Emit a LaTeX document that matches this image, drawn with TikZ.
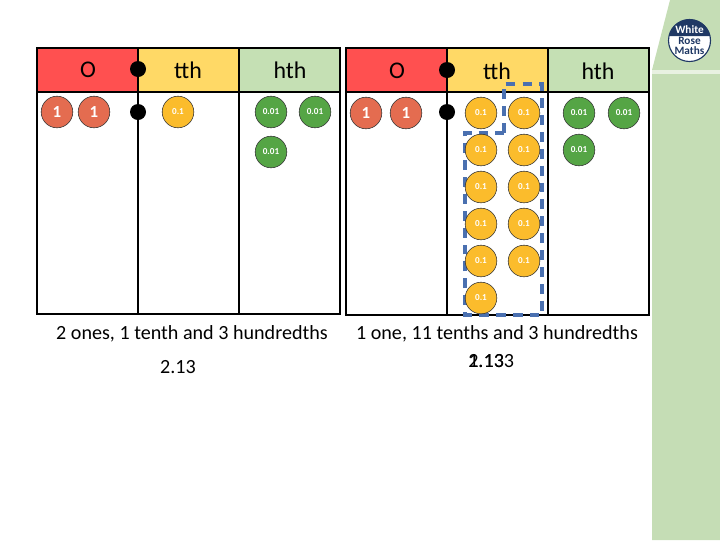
\documentclass[tikz,border=0pt]{standalone}
\usepackage{fontspec}
\setmainfont{Carlito}
\definecolor{onesred}{HTML}{FF5050}
\definecolor{tthyellow}{HTML}{FFD966}
\definecolor{hthgreen}{HTML}{C5E0B4}
\definecolor{onecounter}{HTML}{E46C50}
\definecolor{tthcounter}{HTML}{FBBC2C}
\definecolor{hthcounter}{HTML}{55A545}
\definecolor{bandgreen}{HTML}{C5DDB5}
\definecolor{wrmnavy}{HTML}{1F3864}
\definecolor{regroupblue}{HTML}{4A70B0}
\tikzset{
  headtext/.style={font=\fontsize{17}{20}\selectfont},
  captext/.style={font=\fontsize{14.3}{17}\selectfont},
  counter/.style={circle,draw=black!80,line width=0.4pt,minimum size=0.79cm,inner sep=0pt,text=white,font=\bfseries\fontsize{6.5}{7}\selectfont},
  onecount/.style={counter,fill=onecounter,font=\bfseries\fontsize{12}{12}\selectfont},
  tthcount/.style={counter,fill=tthcounter},
  hthcount/.style={counter,fill=hthcounter},
  pivot/.style={circle,fill=black,minimum size=0.4cm,inner sep=0pt},
  logotext/.style={font=\bfseries\fontsize{8}{8}\selectfont,inner sep=0pt},
  grid/.style={line width=1.4pt}
}
\begin{document}
\begin{tikzpicture}[x=0.025cm,y=-0.025cm]
\useasboundingbox (0,0) rectangle (720,540);
% side band and logo
\fill[bandgreen] (670,0) -- (720,0) -- (720,540) -- (652,540) -- (652,70) -- cycle;
\fill[white!60!bandgreen] (652,70) rectangle (720,74);
\fill[white] (689.5,40.5) circle (21);
\fill[wrmnavy] (669,36) arc (192:348:21) -- cycle;
\draw[wrmnavy,line width=0.8pt] (689.5,40.5) circle (21);
\node[logotext,text=white] (logoa) at (689.5,30) {White};
\node[logotext,text=wrmnavy] (logob) at (689.5,41) {Rose};
\node[logotext,text=wrmnavy] (logoc) at (689.5,51) {Maths};

% left chart
\fill[onesred] (37,48) rectangle (138,92);
\fill[tthyellow] (138,48) rectangle (239,92);
\fill[hthgreen] (239,48) rectangle (340,92);
\draw[grid] (37,48) rectangle (340,314);
\draw[grid] (37,92) -- (340,92);
\draw[grid] (138,48) -- (138,314);
\draw[grid] (239,48) -- (239,314);
\node[headtext] (oa) at (88,70) {O};
\node[headtext] (ta) at (188,70) {tth};
\node[headtext] (ha) at (290,70) {hth};
\node[pivot] (pa) at (138,69) {};
\node[pivot] (pb) at (138,112) {};
\foreach \x/\y [count=\i] in {57/112,94/112}
  \node[onecount] (ca\i) at (\x,\y) {1};
\node[tthcount] (da1) at (178,112) {0.1};
\foreach \x/\y [count=\i] in {271/112,315/112,271/152}
  \node[hthcount] (ea\i) at (\x,\y) {0.01};
\node[captext] (capa) at (192,334) {2 ones, 1 tenth and 3 hundredths};
\node[captext] (vala) at (178,367) {2.13};

% right chart
\fill[onesred] (346,48) rectangle (447,92);
\fill[tthyellow] (447,48) rectangle (548,92);
\fill[hthgreen] (548,48) rectangle (649,92);
\draw[grid] (346,48) rectangle (649,315);
\draw[grid] (346,92) -- (649,92);
\draw[grid] (447,48) -- (447,315);
\draw[grid] (548,48) -- (548,315);
\node[headtext] (ob) at (397,71) {O};
\node[headtext] (tb) at (497,71) {tth};
\node[headtext] (hb) at (598,71) {hth};
\node[pivot] (pc) at (447,70) {};
\node[pivot] (pd) at (447,112) {};
\draw[regroupblue,line width=2.4pt,dash pattern=on 7pt off 5pt] (504,133) -- (504,84) -- (542,84) -- (542,315) -- (465,315) -- (465,133) -- cycle;
\foreach \x/\y [count=\i] in {366/113,406/113}
  \node[onecount] (cb\i) at (\x,\y) {1};
\foreach \x/\y [count=\i] in {481/113,524/113,481/150,524/150,481/187,524/187,481/224,524/224,481/261,524/261,481/298}
  \node[tthcount] (db\i) at (\x,\y) {0.1};
\foreach \x/\y [count=\i] in {579/113,624/113,579/150}
  \node[hthcount] (eb\i) at (\x,\y) {0.01};
\node[captext] (capb) at (497,334) {1 one, 11 tenths and 3 hundredths};
\node[captext,anchor=west,inner sep=0pt] (valb) at (468,361) {2.13};
\node[captext,anchor=west,inner sep=0pt] (valc) at (468,361) {1.133};
\end{tikzpicture}
\end{document}
